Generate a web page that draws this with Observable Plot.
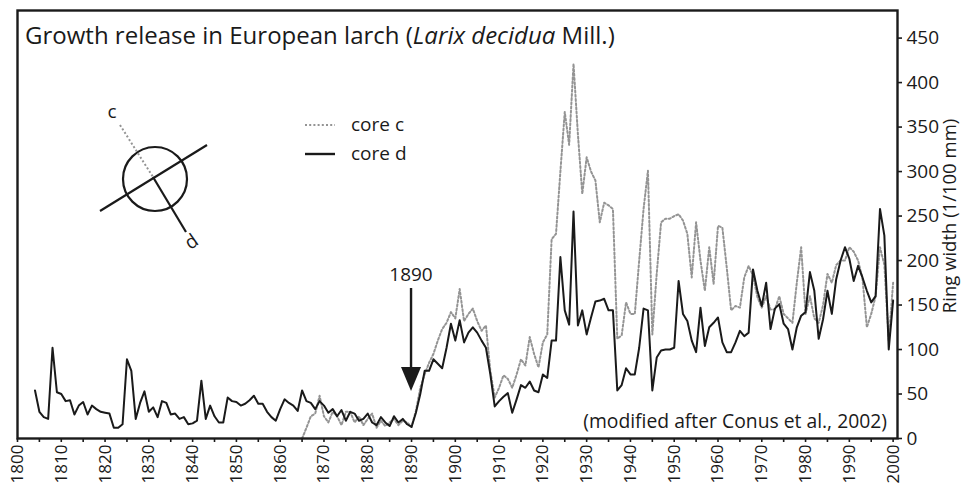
<!DOCTYPE html>
<html><head><meta charset="utf-8">
<script src="https://cdn.jsdelivr.net/npm/d3@7"></script>
<script src="https://cdn.jsdelivr.net/npm/@observablehq/plot@0.6"></script>
<style>
html,body{margin:0;padding:0;background:#fff;}
#chart{width:963px;height:486px;overflow:hidden;}
svg text{font-family:"Open Sans",sans-serif;}
</style></head><body><div id="chart"></div>
<script>
// ---- data ----
const coreDStart = 1804;
const coreD = [
  54,30,24,22,102,52,50,42,43,27,37,41,27,37,33,30,29,28,12,12,
  16,89,76,22,40,53,30,35,24,42,40,27,28,22,24,16,17,20,65,22,
  37,25,18,18,46,42,41,37,39,43,48,39,39,30,24,20,33,44,40,37,
  31,54,42,40,33,42,37,29,33,                       // 1804-1872
  25,32,20,30,28,20,22,28,18,15,24,18,14,25,18,22,16, // 1873-1889
  13,                                                 // 1890
  29,50,76,76,89,84,79,102,129,110,133,108,119,125,119,110,102,72,36,42,
  47,51,29,44,60,57,64,54,52,72,68,110,110,204,144,128,255,127,144,117,
  136,154,155,157,144,144,54,60,79,72,72,102,146,144, // 1891-1944
  54,91,99,100,100,102,177,140,132,110,97,147,104,125,130,136,108,97,97,108,
  121,115,119,190,166,149,175,123,146,151,129,123,100,125,138,142,187,166,112,134,
  166,140,179,200,215,202,177,194,181,166,153,160,258,228,100,155 // 1945-2000
];
const coreCStart = 1865;
const coreC = [
  0,12,25,28,48,25,18,30,25,15,30,30,18,25,15,22,28,12,20,14,18,22,15,20,18,13, // 1865-1890
  31,57,72,85,95,110,123,130,142,135,168,132,140,146,132,121,127,76,46,57,
  71,67,57,72,89,82,114,95,80,108,117,                 // 1891-1921
  224,230,300,367,330,421,342,275,316,300,290,243,265,262,258, // 1922-1936
  112,116,153,140,140,200,258,301,                     // 1937-1944
  117,185,243,247,247,250,252,245,230,181,243,200,166,215,174,239,237,192,144,149,
  147,181,194,183,159,147,                             // 1945-1970
  160,145,145,160,140,135,130,175,215,140,160,135,130,150,185,175,195,200,200,215,
  210,200,180,125,140,160,215,195,110,175              // 1971-2000
];
const xLabelTicks = d3.range(1800, 2001, 10);
const xMinorTicks = d3.range(1805, 2000, 10);
const yTicks = d3.range(0, 451, 50);
const seriesNames = ["core c", "core d"];
const releaseYear = 1890;
const releaseLabel = "1890";
const titleMain = "Growth release in European larch (";
const titleItalic = "Larix decidua";
const titleEnd = " Mill.)";
const yLabel = "Ring width (1/100 mm)";
const sourceNote = "(modified after Conus et al., 2002)";

const dRows = coreD.map((v, i) => ({year: coreDStart + i, value: v}));
const cRows = coreC.map((v, i) => ({year: coreCStart + i, value: v}));

const FONT = '"Open Sans", sans-serif';
const INK = "#1a1a1a";
const GREY = "#949494";
const DOTS = "2,2.2";

const plot = Plot.plot({
  width: 963, height: 486,
  marginLeft: 17, marginRight: 66, marginTop: 10, marginBottom: 48,
  x: {domain: [1800, 2001]},
  y: {domain: [0, 481]},
  style: {fontFamily: FONT, fontSize: "19px", color: INK, background: "#fff", overflow: "visible"},
  marks: [
    Plot.line(cRows, {x: "year", y: "value", stroke: GREY, strokeWidth: 2, strokeDasharray: DOTS}),
    Plot.line(dRows, {x: "year", y: "value", stroke: INK, strokeWidth: 2}),
    Plot.frame({stroke: INK, strokeWidth: 2.4}),
    Plot.axisX({ticks: xLabelTicks, tickFormat: d => String(d), tickRotate: -90, tickSize: 4, tickPadding: 2, label: null, fontSize: 17, strokeWidth: 1.6}),
    Plot.axisX({ticks: xMinorTicks, tickFormat: () => "", tickSize: 4, label: null, strokeWidth: 1.6}),
    Plot.axisY({anchor: "right", ticks: yTicks, tickSize: 4, tickPadding: 5, label: null, fontSize: 19, strokeWidth: 1.6})
  ]
});
document.getElementById("chart").appendChild(plot);

const svg = d3.select(plot);
const sx = plot.scale("x");

function fitWidth(sel, target) {
  const fs = parseFloat(sel.attr("font-size"));
  const len = sel.node().getComputedTextLength();
  if (len > 0) sel.attr("font-size", (fs * target / len).toFixed(2));
}
function addText(x, y, str, size, anchor) {
  return svg.append("text").attr("x", x).attr("y", y).attr("text-anchor", anchor)
    .attr("font-size", size).attr("fill", INK).style("font-family", FONT).text(str);
}

// title
const title = svg.append("text").attr("x", 25).attr("y", 44).attr("font-size", 22)
  .attr("text-anchor", "start").attr("fill", INK).style("font-family", FONT);
title.append("tspan").text(titleMain);
title.append("tspan").attr("font-style", "italic").text(titleItalic);
title.append("tspan").text(titleEnd);
fitWidth(title, 590);

// y label
svg.append("text").attr("transform", "translate(951,216) rotate(-90)")
  .attr("text-anchor", "middle").attr("dominant-baseline", "middle")
  .attr("font-size", 18.5).attr("fill", INK).style("font-family", FONT).text(yLabel);

// source note
const note = addText(887, 428, sourceNote, 19, "end");
fitWidth(note, 304);

// legend
[[GREY, DOTS, 125, 2], [INK, null, 154, 2.4]].forEach(([c, dash, y, w], i) => {
  svg.append("line").attr("x1", 305).attr("x2", 335).attr("y1", y).attr("y2", y)
    .attr("stroke", c).attr("stroke-width", w).attr("stroke-dasharray", dash);
  addText(351, y + 6, seriesNames[i], 19, "start");
});

// release arrow
const ax = sx.apply(releaseYear);
addText(ax, 281, releaseLabel, 19, "middle");
svg.append("line").attr("x1", ax).attr("x2", ax).attr("y1", 288).attr("y2", 370)
  .attr("stroke", INK).attr("stroke-width", 2.4);
svg.append("path").attr("d", `M${ax-10},367 L${ax+10},367 L${ax},391 Z`).attr("fill", INK);

// inset: core positions on stem
const ins = svg.append("g").attr("fill", "none");
ins.append("circle").attr("cx", 155).attr("cy", 179).attr("r", 32).attr("stroke", INK).attr("stroke-width", 2.2);
ins.append("line").attr("x1", 100).attr("y1", 211).attr("x2", 207).attr("y2", 145).attr("stroke", INK).attr("stroke-width", 2.2);
ins.append("line").attr("x1", 153).attr("y1", 177).attr("x2", 186).attr("y2", 232).attr("stroke", INK).attr("stroke-width", 2.2);
ins.append("line").attr("x1", 120).attr("y1", 125).attr("x2", 153).attr("y2", 177).attr("stroke", GREY).attr("stroke-width", 2).attr("stroke-dasharray", DOTS);
addText(112, 118, "c", 19, "middle");
svg.append("text").attr("transform", "translate(195,247) rotate(-35)").attr("text-anchor", "middle")
  .attr("font-size", 19).attr("fill", INK).style("font-family", FONT).text("d");
</script>
</body></html>
